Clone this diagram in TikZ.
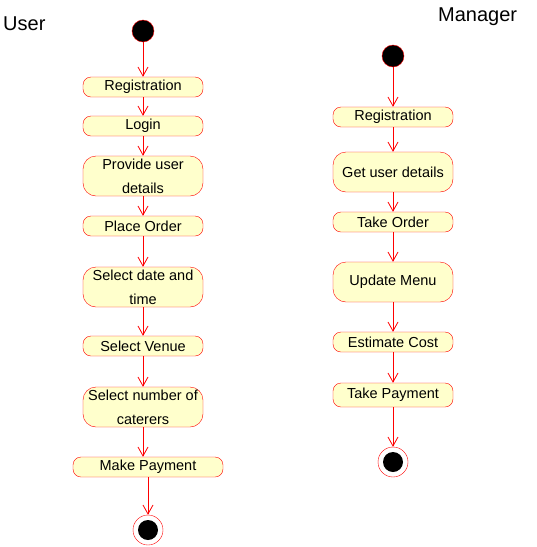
\documentclass[tikz,border=0pt]{standalone}
\usepackage{fontspec}
\setmainfont{Liberation Sans}
\usepackage{tikz}
\usetikzlibrary{arrows.meta}
\definecolor{actfill}{RGB}{255,255,204}

\tikzset{
  act/.style={draw=red, fill=actfill, rounded corners=8pt, minimum width=120pt,
    minimum height=20pt, inner sep=0pt, align=center,
    font=\fontsize{14.5}{24}\selectfont},
  acttall/.style={act, minimum height=40pt, rounded corners=13pt},
  initial/.style={circle, draw=red, fill=black, minimum size=22pt, inner sep=0pt},
  final/.style={circle, draw=red, fill=white, minimum size=30pt, inner sep=0pt,
    path picture={\fill[black] (path picture bounding box.center) circle (10pt);}},
  flow/.style={draw=red, line width=0.8pt, -{Straight Barb[length=9pt,width=10pt]}},
  lane/.style={font=\fontsize{20}{24}\selectfont, inner sep=0pt}
}

\begin{document}
\begin{tikzpicture}[x=1pt, y=-1pt]
          \useasboundingbox (0,0) rectangle (537,547);
          % lanes
          \node [lane, anchor=base west] (user) at (3,30) {User};
          \node [lane, anchor=base west] (manager) at (438,21) {Manager};
          % user flow
          \node [initial] (us) at (143,31) {};
          \node [act] (u1) at (143,87) {Registration};
          \node [act] (u2) at (143,126) {Login};
          \node [acttall] (u3) at (143,176) {Provide user\\details};
          \node [act] (u4) at (143,226) {Place Order};
          \node [acttall] (u5) at (143,287) {Select date and\\time};
          \node [act] (u6) at (143,346) {Select Venue};
          \node [acttall] (u7) at (143,407) {Select number of\\caterers};
          \node [act, minimum width=150pt] (u8) at (148,467) {Make Payment};
          \node [final] (ue) at (148,530) {};
          % manager flow
          \node [initial] (ms) at (393,56) {};
          \node [act] (m1) at (393,117) {Registration};
          \node [acttall] (m2) at (393,172) {Get user details};
          \node [act] (m3) at (393,222) {Take Order};
          \node [acttall] (m4) at (393,282) {Update Menu};
          \node [act] (m5) at (393,342) {Estimate Cost};
          \node [act, minimum height=24pt] (m6) at (393,395) {Take Payment};
          \node [final] (me) at (393,462) {};
          \foreach \from/\to in {us/u1, u1/u2, u2/u3, u3/u4, u4/u5, u5/u6,
            u6/u7, u8/ue, ms/m1, m1/m2, m2/m3, m3/m4, m4/m5, m5/m6, m6/me}{
            \draw [flow] (\from) -- (\to);
          }
          \draw [flow] (u7) -- (u7 |- u8.north);
        \end{tikzpicture}
\end{document}
